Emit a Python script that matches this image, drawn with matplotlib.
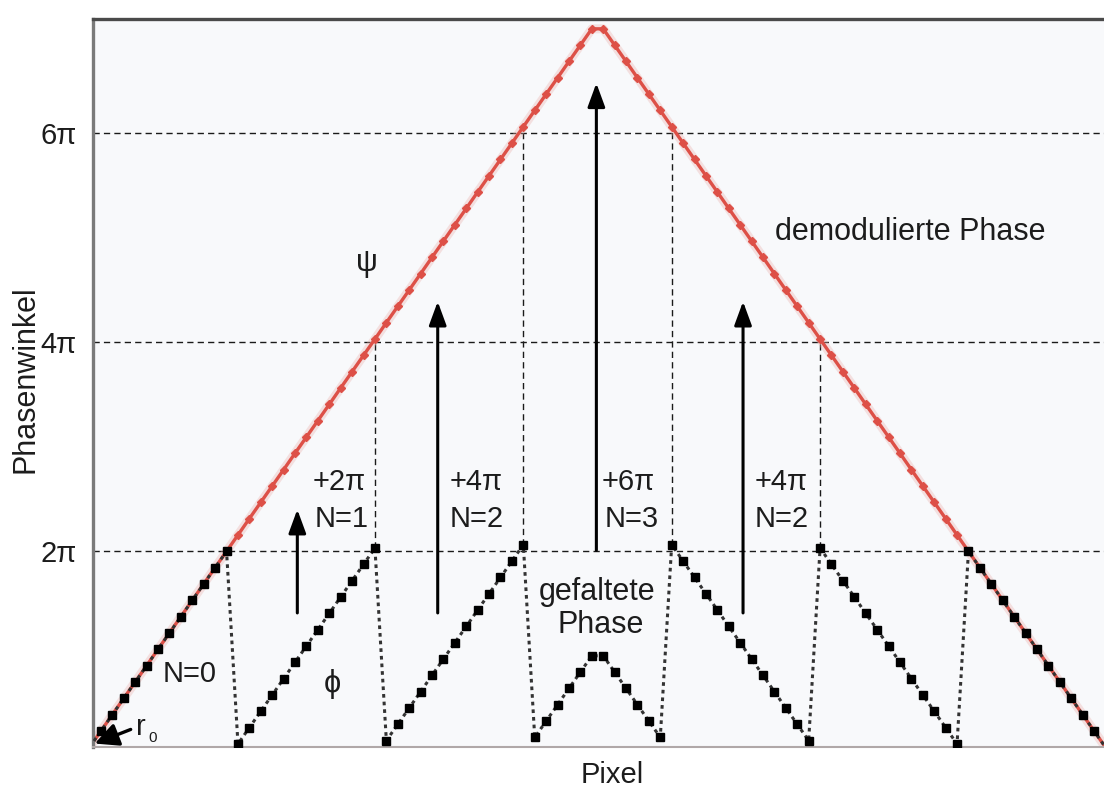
import matplotlib
matplotlib.use("Agg")
import matplotlib.pyplot as plt
import numpy as np

plt.rcParams['font.family'] = ['Liberation Sans', 'DejaVu Sans']

# pixel index of each sample (first and last lie just outside the frame)
pixel = list(range(-1, 89))

# demodulated (unwrapped) phase psi, in units of pi
psi_pi = [
    0.125, 0.281, 0.438, 0.594, 0.750, 0.906, 1.063, 1.219, 1.375, 1.531,
    1.688, 1.844, 2.000, 2.156, 2.313, 2.469, 2.625, 2.781, 2.938, 3.094,
    3.250, 3.406, 3.563, 3.719, 3.875, 4.031, 4.188, 4.344, 4.500, 4.656,
    4.813, 4.969, 5.125, 5.281, 5.438, 5.594, 5.750, 5.906, 6.063, 6.219,
    6.375, 6.531, 6.688, 6.844, 7.000,
    7.000, 6.844, 6.688, 6.531, 6.375, 6.219, 6.063, 5.906, 5.750, 5.594,
    5.438, 5.281, 5.125, 4.969, 4.813, 4.656, 4.500, 4.344, 4.188, 4.031,
    3.875, 3.719, 3.563, 3.406, 3.250, 3.094, 2.938, 2.781, 2.625, 2.469,
    2.313, 2.156, 2.000, 1.844, 1.688, 1.531, 1.375, 1.219, 1.063, 0.906,
    0.750, 0.594, 0.438, 0.281, 0.125,
]

# number of 2*pi jumps removed at each sample
wraps = ([0] * 13 + [1] * 13 + [2] * 13 + [3] * 12
         + [2] * 13 + [1] * 13 + [0] * 13)

# folded phase phi = psi - 2*pi*N
phi_pi = [p - 2 * n for p, n in zip(psi_pi, wraps)]

# samples where a vertical guide links psi and phi
guide_idx = [25, 38, 51, 64]

ytick_vals = [2, 4, 6]
ytick_labels = ['2π', '4π', '6π']

# upward arrows: (x, y_start, y_end)
jump_arrows = [(17.2, 1.41, 2.40), (29.5, 1.41, 4.39),
               (43.4, 2.01, 6.48), (56.25, 1.41, 4.39)]
jump_labels = [('+2π', 'N=1', 20.85, 21.1), ('+4π', 'N=2', 32.85, 32.95),
               ('+6π', 'N=3', 46.2, 46.5), ('+4π', 'N=2', 59.6, 59.6)]

TXT = '#1c1c1c'

fig = plt.figure(figsize=(11.04, 7.89), dpi=100)
ax = fig.add_axes([93 / 1104, 1 - 747 / 789, (1110 - 93) / 1104, (747 - 19) / 789])
ax.set_facecolor('#f8f9fb')
ax.set_xlim(-0.701, 88.4)
ax.set_ylim(0.127, 7.094)

# dashed reference levels
for yv in ytick_vals:
    ax.axhline(yv, color='#1a1a1a', lw=1.0, dashes=(4.5, 3), zorder=1)
for k in guide_idx:
    ax.vlines(pixel[k], phi_pi[k], psi_pi[k], color='#1a1a1a', lw=1.0,
              linestyles=(0, (4.5, 3)), zorder=1)

marks = list(range(1, len(pixel) - 1))

# demodulated phase
ax.plot(pixel, psi_pi, color='#eab0ab', lw=6.5, alpha=0.35, zorder=2,
        solid_capstyle='round')
ax.plot(pixel, psi_pi, color='#dd5047', lw=2.4, marker='D', ms=3.8,
        markevery=marks, zorder=2.5)

# folded phase
ax.plot(pixel, phi_pi, color='#333333', lw=2.2, ls=(0, (1.2, 1.3)), zorder=3)
ax.plot(pixel, phi_pi, ls='none', marker='s', ms=6.2, color='black',
        markevery=marks, zorder=4)

# upward arrows marking the added multiples of 2*pi
for xa, y0, y1 in jump_arrows:
    ax.annotate('', xy=(xa, y1), xytext=(xa, y0),
                arrowprops=dict(arrowstyle='-|>,head_length=0.6,head_width=0.22',
                                lw=2.2, color='black', mutation_scale=24,
                                shrinkA=0, shrinkB=0), zorder=5)

for top, bottom, xt, xb in jump_labels:
    ax.text(xt, 2.587, top, fontsize=21, ha='center', va='baseline', color=TXT)
    ax.text(xb, 2.232, bottom, fontsize=21, ha='center', va='baseline', color=TXT)

ax.text(7.8, 0.749, 'N=0', fontsize=21, ha='center', va='baseline', color=TXT)
ax.text(20.3, 0.73, 'ϕ', fontsize=22, ha='center', va='center', color=TXT)
ax.text(23.3, 4.76, 'ψ', fontsize=22, ha='center', va='center', color=TXT)
ax.text(43.5, 1.53, 'gefaltete', fontsize=22, ha='center', va='baseline', color=TXT)
ax.text(43.8, 1.219, 'Phase', fontsize=22, ha='center', va='baseline', color=TXT)
ax.text(70.9, 4.98, 'demodulierte Phase', fontsize=22, ha='center', va='baseline',
        color=TXT)

# start point r0
ax.annotate('', xy=(-0.55, 0.16), xytext=(2.6, 0.295),
            arrowprops=dict(arrowstyle='-|>,head_length=0.65,head_width=0.32',
                            lw=2.4, color='black', mutation_scale=22,
                            shrinkA=0, shrinkB=0), zorder=5)
ax.text(3.1, 0.242, 'r', fontsize=21, ha='left', va='baseline', color=TXT)
ax.text(4.15, 0.175, '0', fontsize=11, ha='left', va='baseline', color=TXT)

ax.set_yticks(ytick_vals)
ax.set_yticklabels(ytick_labels, fontsize=21, color=TXT)
ax.set_xticks([])
ax.tick_params(axis='y', length=0, pad=12)

fig.text(26 / 1104, 1 - 379 / 789, 'Phasenwinkel', rotation=90, fontsize=22,
         ha='center', va='center', color=TXT)
fig.text(612 / 1104, 1 - 775 / 789, 'Pixel', fontsize=21,
         ha='center', va='center', color=TXT)

ax.spines['right'].set_visible(False)
ax.spines['left'].set_color('#7a7a7a')
ax.spines['left'].set_linewidth(2.4)
ax.spines['top'].set_color('#4a4a4a')
ax.spines['top'].set_linewidth(2.4)
ax.spines['bottom'].set_color('#b0a8a8')
ax.spines['bottom'].set_linewidth(1.5)

fig.savefig('out.png', dpi=100, facecolor='white')
